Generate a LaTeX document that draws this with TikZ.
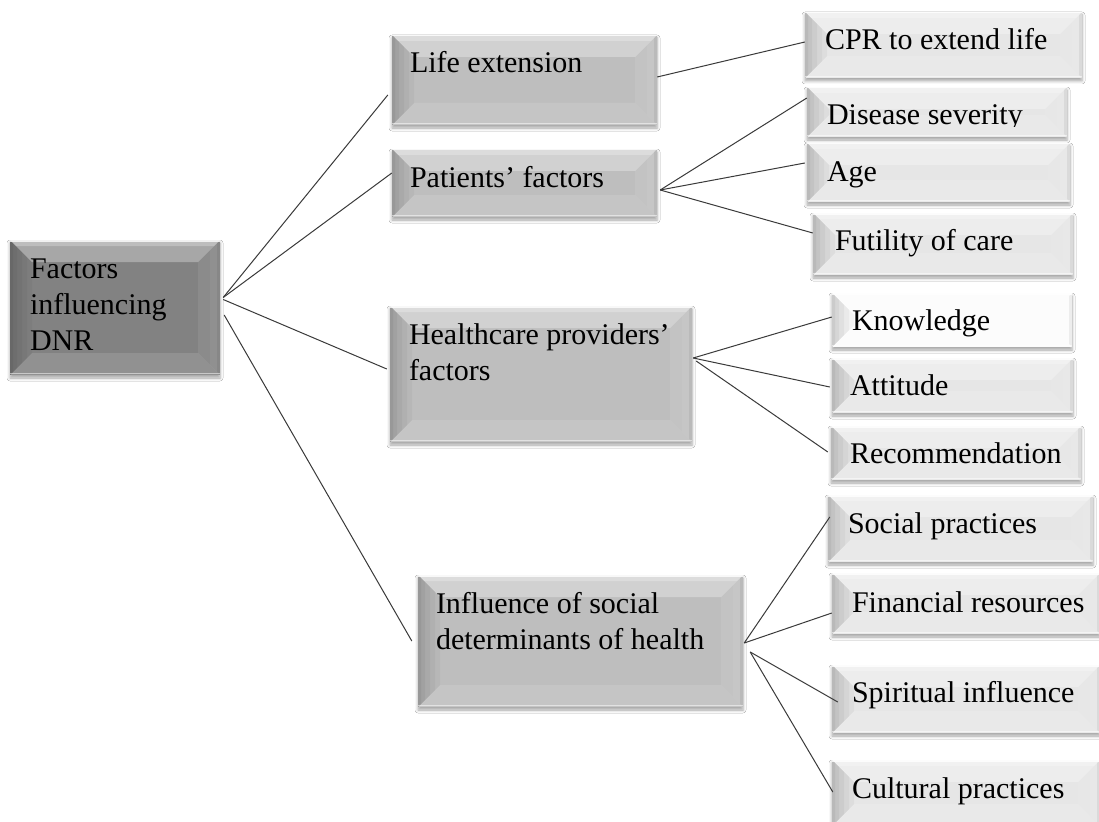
\documentclass[tikz,border=0pt]{standalone}
\usepackage{fontspec}
\setmainfont{Liberation Serif}
\usetikzlibrary{shadows.blur,calc}
\definecolor{rootface}{HTML}{828282}
\definecolor{midface}{HTML}{BEBEBE}
\definecolor{leafface}{HTML}{E6E6E6}
\definecolor{whiteface}{HTML}{FCFCFC}
\definecolor{linec}{HTML}{3A3A3A}
\newcommand{\leftstrip}[2]{%
  \fill[black, opacity=#2] (pA) -- ([xshift=#1,yshift=-#1]pA) -- ([xshift=#1,yshift=#1]pD) -- (pD) -- cycle;}
\newcommand{\rightstrip}[2]{%
  \fill[white, opacity=#2] (pB) -- ([xshift=-#1,yshift=-#1]pB) -- ([xshift=-#1,yshift=#1]pC) -- (pC) -- cycle;}
\tikzset{
  bevelbox/.style={draw=none, fill=#1, inner sep=0pt,
    blur shadow={shadow xshift=0pt, shadow yshift=-3pt, shadow blur radius=3pt, shadow opacity=35},
    path picture={
      \coordinate (pA) at (path picture bounding box.north west);
      \coordinate (pB) at (path picture bounding box.north east);
      \coordinate (pC) at (path picture bounding box.south east);
      \coordinate (pD) at (path picture bounding box.south west);
      % top band (light)
      \fill[white, opacity=0.30] (pA) -- (pB) -- ([xshift=-22pt,yshift=-22pt]pB) -- ([xshift=22pt,yshift=-22pt]pA) -- cycle;
      \fill[white, opacity=0.25] (pA) -- (pB) -- ([xshift=-6pt,yshift=-6pt]pB) -- ([xshift=6pt,yshift=-6pt]pA) -- cycle;
      % bottom band
      \fill[white, opacity=0.12] (pD) -- (pC) -- ([xshift=-22pt,yshift=22pt]pC) -- ([xshift=22pt,yshift=22pt]pD) -- cycle;
      % left band: stepped gradient, darker at the edge
      \leftstrip{22pt}{0.035}\leftstrip{17pt}{0.035}\leftstrip{12pt}{0.04}\leftstrip{7pt}{0.045}\leftstrip{3pt}{0.05}
      % right band: faintly lighter, with a thin shade at the very edge
      \rightstrip{22pt}{0.08}\rightstrip{10pt}{0.05}
      \fill[black, opacity=0.06] (pB) -- ([xshift=-3pt,yshift=-3pt]pB) -- ([xshift=-3pt,yshift=3pt]pC) -- (pC) -- cycle;
      % edge highlights
      \draw[white, opacity=0.8, line width=1.5pt] ([yshift=-0.75pt]pA) -- ([yshift=-0.75pt]pB);
      \draw[white, opacity=0.5, line width=1.2pt] ([yshift=1.6pt]pD) -- ([yshift=1.6pt]pC);
    }},
  boxtext/.style={anchor=north west, inner sep=0pt, align=left, text=black,
    font=\fontsize{30}{36}\selectfont},
  conn/.style={draw=linec, line width=1pt},
}
\begin{document}
\begin{tikzpicture}[x=1pt, y=-1pt]
\fill[white] (0,0) rectangle (1099,821);
\useasboundingbox (0,0) rectangle (1099,821);

% root
\node[bevelbox=rootface, minimum width=210pt, minimum height=135pt] (root) at (115,307.5) {};
% level 1
\node[bevelbox=midface, minimum width=265pt, minimum height=90pt] (life) at (524.5,80) {};
\node[bevelbox=midface, minimum width=265pt, minimum height=68pt] (pat) at (524.5,183) {};
\node[bevelbox=midface, minimum width=302pt, minimum height=136pt] (health) at (541,374) {};
\node[bevelbox=midface, minimum width=325pt, minimum height=132pt] (infl) at (580.5,641) {};
% leaves
\node[bevelbox=leafface, minimum width=277pt, minimum height=66pt] (cpr) at (943.5,45) {};
\node[bevelbox=leafface, minimum width=260pt, minimum height=50pt] (dis) at (937,112) {};
\node[bevelbox=leafface, minimum width=263pt, minimum height=59pt] (age) at (938.5,172.5) {};
\node[bevelbox=leafface, minimum width=260pt, minimum height=62pt] (fut) at (943,244) {};
\node[bevelbox=whiteface, minimum width=240pt, minimum height=54pt] (kno) at (952,320) {};
\node[bevelbox=leafface, minimum width=241pt, minimum height=55pt] (att) at (952.5,385.5) {};
\node[bevelbox=leafface, minimum width=250pt, minimum height=54pt] (rec) at (956,453) {};
\node[bevelbox=leafface, minimum width=265pt, minimum height=67pt] (soc) at (960.5,528.5) {};
\node[bevelbox=leafface, minimum width=268pt, minimum height=61pt] (fin) at (966,603.5) {};
\node[bevelbox=leafface, minimum width=268pt, minimum height=68pt] (spi) at (966,699) {};
\node[bevelbox=leafface, minimum width=268pt, minimum height=66pt] (cul) at (966,793) {};

% texts
\node[boxtext] (troot) at ([xshift=20pt,yshift=-12.8pt]root.north west) {\strut Factors\\influencing\\DNR};
\node[boxtext] (tlife) at ([xshift=18pt,yshift=-12.8pt]life.north west) {\strut Life extension};
\node[boxtext] (tpat) at ([xshift=18pt,yshift=-12.8pt]pat.north west) {\strut Patients’ factors};
\node[boxtext] (thealth) at ([xshift=19pt,yshift=-12.8pt]health.north west) {\strut Healthcare providers’\\factors};
\node[boxtext] (tinfl) at ([xshift=18pt,yshift=-12.8pt]infl.north west) {\strut Influence of social\\determinants of health};
\node[boxtext] (tcpr) at ([xshift=20pt,yshift=-12.8pt]cpr.north west) {\strut CPR to extend life};
\begin{scope}
\clip (dis.north west) rectangle ([yshift=11pt]dis.south east);
\node[boxtext] (tdis) at ([xshift=20pt,yshift=-12.8pt]dis.north west) {\strut Disease severity};
\end{scope}
\node[boxtext] (tage) at ([xshift=20pt,yshift=-13.8pt]age.north west) {\strut Age};
\node[boxtext] (tfut) at ([xshift=22pt,yshift=-12pt]fut.north west) {\strut Futility of care};
\node[boxtext] (tkno) at ([xshift=20pt,yshift=-12pt]kno.north west) {\strut Knowledge};
\node[boxtext] (tatt) at ([xshift=18pt,yshift=-12pt]att.north west) {\strut Attitude};
\node[boxtext] (trec) at ([xshift=19pt,yshift=-12pt]rec.north west) {\strut Recommendation};
\node[boxtext] (tsoc) at ([xshift=20pt,yshift=-12.8pt]soc.north west) {\strut Social practices};
\node[boxtext] (tfin) at ([xshift=20pt,yshift=-13.8pt]fin.north west) {\strut Financial resources};
\node[boxtext] (tspi) at ([xshift=20pt,yshift=-12pt]spi.north west) {\strut Spiritual influence};
\node[boxtext] (tcul) at ([xshift=20pt,yshift=-12.8pt]cul.north west) {\strut Cultural practices};

% connectors
\draw[conn] ([xshift=3pt,yshift=10pt]root.east) -- ([xshift=-4pt,yshift=-15pt]life.west);
\draw[conn] ([xshift=3pt,yshift=10pt]root.east) -- ([yshift=10pt]pat.west);
\draw[conn] ([xshift=3pt,yshift=8pt]root.east) -- ([xshift=-3pt,yshift=5pt]health.west);
\draw[conn] ([xshift=4pt,yshift=-7.5pt]root.east) -- ([xshift=-6pt]infl.west);

\draw[conn] ([yshift=3pt]life.east) -- ([yshift=3pt]cpr.west);

\draw[conn] ([xshift=3pt,yshift=-7pt]pat.east) -- ([yshift=14pt]dis.west);
\draw[conn] ([xshift=3pt,yshift=-7pt]pat.east) -- ([xshift=-2pt,yshift=9.5pt]age.west);
\draw[conn] ([xshift=3pt,yshift=-7pt]pat.east) -- ([yshift=11pt]fut.west);

\draw[conn] ([xshift=1pt,yshift=16pt]health.east) -- ([yshift=3pt]kno.west);
\draw[conn] ([xshift=1pt,yshift=16pt]health.east) -- ([xshift=-2pt,yshift=-1.5pt]att.west);
\draw[conn] ([xshift=4pt,yshift=13pt]health.east) -- ([xshift=-3pt,yshift=1pt]rec.west);

\draw[conn] ([xshift=1pt,yshift=-2pt]infl.east) -- ([xshift=2pt,yshift=11.5pt]soc.west);
\draw[conn] ([xshift=1pt,yshift=-2pt]infl.east) -- ([yshift=-9.5pt]fin.west);
\draw[conn] ([xshift=7pt,yshift=-11pt]infl.east) -- ([xshift=6pt,yshift=-3pt]spi.west);
\draw[conn] ([xshift=7pt,yshift=-11pt]infl.east) -- ([xshift=1pt,yshift=1pt]cul.west);
\end{tikzpicture}
\end{document}
